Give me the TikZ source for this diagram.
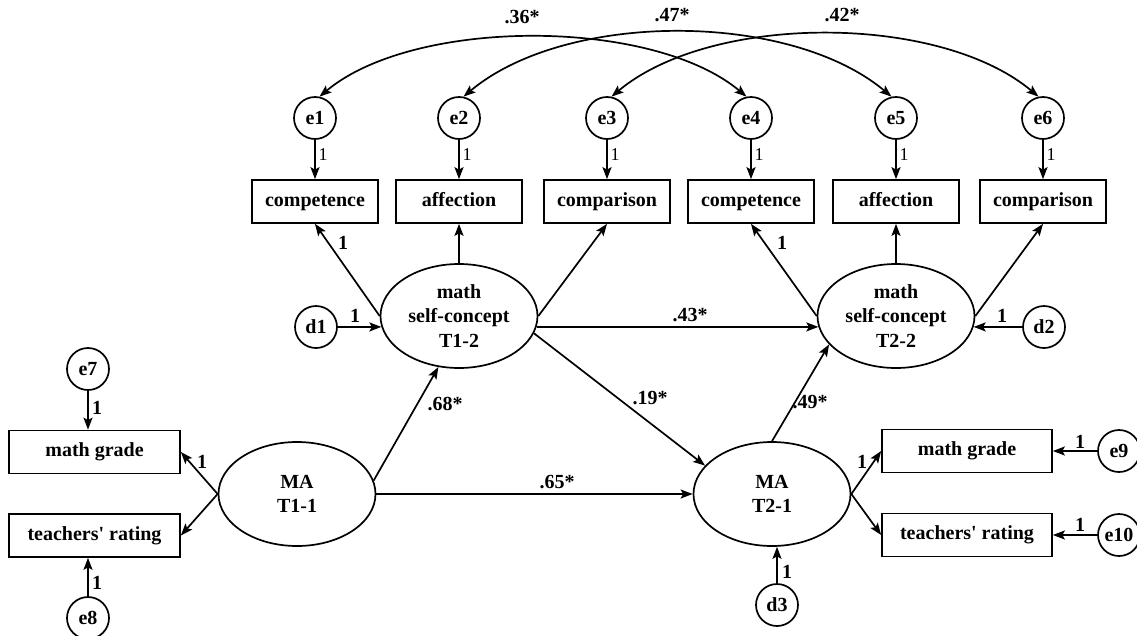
\documentclass[tikz,border=0pt]{standalone}
\usepackage{fontspec}
\setmainfont{Liberation Serif}[Ligatures=TeXOff]
\usetikzlibrary{shapes.geometric,arrows.meta}
\begin{document}
\begin{tikzpicture}[x=1pt,y=-1pt,
  every node/.style={font=\fontsize{20}{24.5}\selectfont\bfseries},
  obs/.style={draw, line width=1.7pt, rectangle, minimum height=43pt, inner sep=0pt, text height=13.5pt, text depth=4pt},
  err/.style={draw, line width=1.7pt, circle, minimum size=42pt, inner sep=0pt},
  lat/.style={draw, line width=1.7pt, ellipse, minimum width=157pt, minimum height=104pt, inner sep=0pt, align=center},
  arr/.style={line width=1.7pt, -{Stealth[length=12pt,width=9pt,inset=2.5pt]}},
  cov/.style={line width=1.7pt, {Stealth[length=12pt,width=9pt,inset=2.5pt]}-{Stealth[length=12pt,width=9pt,inset=2.5pt]}},
  lab/.style={inner sep=0pt},
  reg/.style={inner sep=0pt, font=\fontsize{18}{20}\selectfont},
]
\useasboundingbox (0,0) rectangle (1137,635);

% error terms top
\node[err] (e1) at (315,118) {e1};
\node[err] (e2) at (459,118) {e2};
\node[err] (e3) at (607,118) {e3};
\node[err] (e4) at (751,118) {e4};
\node[err] (e5) at (896,118) {e5};
\node[err] (e6) at (1043,118) {e6};

% indicator boxes top
\node[obs, minimum width=126pt] (c1) at (315,201.5) {competence};
\node[obs, minimum width=126pt] (a1) at (459,201.5) {affection};
\node[obs, minimum width=126pt] (p1) at (607,201.5) {comparison};
\node[obs, minimum width=126pt] (c2) at (751,201.5) {competence};
\node[obs, minimum width=126pt] (a2) at (896,201.5) {affection};
\node[obs, minimum width=126pt] (p2) at (1043,201.5) {comparison};

% latent variables
\node[lat] (S1) at (459,316) {math\\self-concept\\T1-2};
\node[lat] (S2) at (896,316) {math\\self-concept\\T2-2};
\node[lat] (M1) at (297,494) {MA\\T1-1};
\node[lat] (M2) at (772,494) {MA\\T2-1};

% disturbances
\node[err] (d1) at (316,327) {d1};
\node[err] (d2) at (1044,327) {d2};
\node[err] (d3) at (777,605) {d3};

% MA indicators
\node[obs, minimum width=171pt] (g1) at (94.5,452) {math grade};
\node[obs, minimum width=171pt] (t1) at (94.5,535.5) {teachers' rating};
\node[obs, minimum width=170pt] (g2) at (967,451) {math grade};
\node[obs, minimum width=170pt] (t2) at (967,535) {teachers' rating};
\node[err] (e7) at (88,369) {e7};
\node[err] (e8) at (88,618) {e8};
\node[err] (e9) at (1119,451) {e9};
\node[err] (e10) at (1119,535) {e10};

% covariances
\draw[cov] (e1.78) to[out=40,in=140,looseness=0.74] (e4.102);
\draw[cov] (e2.78) to[out=40,in=140,looseness=0.8] (e5.102);
\draw[cov] (e3.78) to[out=40,in=140,looseness=0.78] (e6.102);
\node[lab] (l36) at (522,17) {.36*};
\node[lab] (l47) at (672,15) {.47*};
\node[lab] (l42) at (842,15) {.42*};

% error -> indicator
\foreach \e/\b in {e1/c1,e2/a1,e3/p1,e4/c2,e5/a2,e6/p2}{
  \draw[arr] (\e) -- (\b.north);
}
\node[reg] (r1) at (323,155) {1};
\node[reg] (r2) at (467,155) {1};
\node[reg] (r3) at (615,155) {1};
\node[reg] (r4) at (759,155) {1};
\node[reg] (r5) at (904,155) {1};
\node[reg] (r6) at (1051,155) {1};

% loadings self-concept T1
\draw[arr] (S1.west) -- (c1.south);
\draw[arr] (S1.north) -- (a1.south);
\draw[arr] (S1.east) -- (p1.south);
\node[lab] (lc1) at (343,243) {1};
\draw[arr] (d1.east) -- (S1.188);
\node[lab] (ld1) at (355,316) {1};

% loadings self-concept T2
\draw[arr] (S2.west) -- (c2.south);
\draw[arr] (S2.north) -- (a2.south);
\draw[arr] (S2.east) -- (p2.south);
\node[lab] (lc2) at (782,243) {1};
\draw[arr] (d2.west) -- (S2.-8);
\node[lab] (ld2) at (1002,316) {1};

% structural paths
\draw[arr] (S1.-8) -- (S2.188);
\node[lab] (l43) at (690,315) {.43*};
\draw[arr] (S1.-13) -- (M2.157);
\node[lab] (l19) at (650,398) {.19*};
\draw[arr] (M1.10) -- (S1.248);
\node[lab] (l68) at (445,404) {.68*};
\draw[arr] (M1.east) -- (M2.west);
\node[lab] (l65) at (557,482) {.65*};
\draw[arr] (M2.north) -- (S2.203);
\node[lab] (l49) at (810,402) {.49*};

% MA T1 indicators
\draw[arr] (M1.west) -- (g1.east);
\draw[arr] (M1.west) -- (t1.east);
\node[lab] (lg1) at (202,462) {1};
\draw[arr] (e7) -- (e7 |- g1.north);
\node[lab] (le7) at (97,408) {1};
\draw[arr] (e8) -- (e8 |- t1.south);
\node[lab] (le8) at (97,583) {1};

% MA T2 indicators
\draw[arr] (M2.east) -- (g2.west);
\draw[arr] (M2.east) -- (t2.west);
\node[lab] (lg2) at (862,462) {1};
\draw[arr] (e9) -- (g2.east);
\node[lab] (le9) at (1080,442) {1};
\draw[arr] (e10) -- (t2.east);
\node[lab] (le10) at (1080,525) {1};
\draw[arr] (d3) -- (d3 |- M2.south);
\node[lab] (ld3) at (787,572) {1};
\end{tikzpicture}
\end{document}
